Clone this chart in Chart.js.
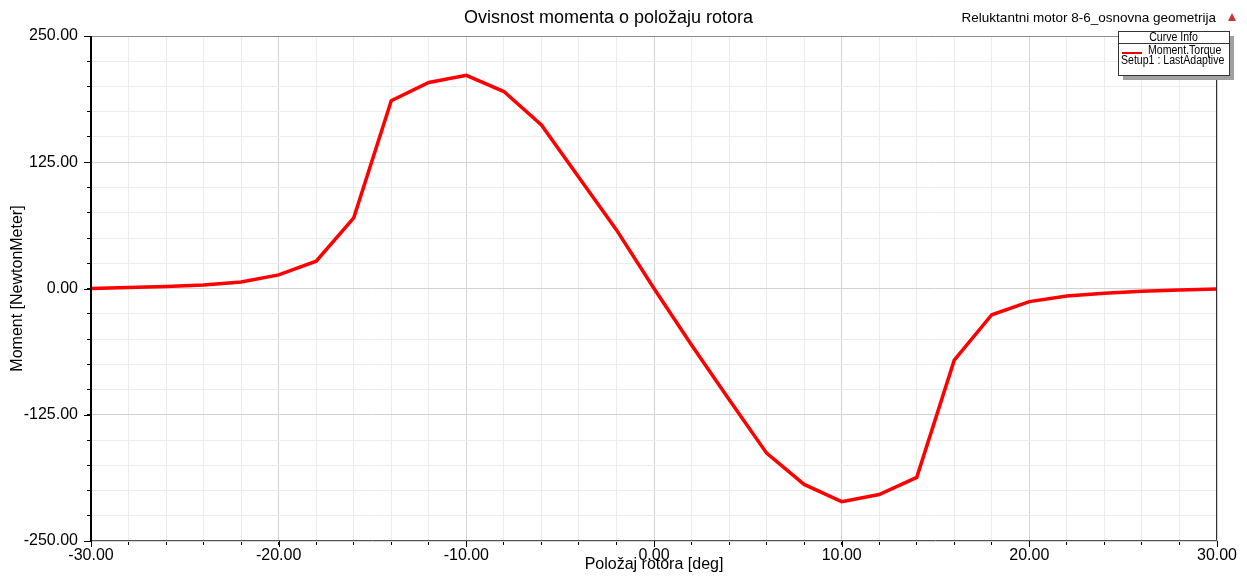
<!DOCTYPE html>
<html>
<head>
<meta charset="utf-8">
<title>Ovisnost momenta o položaju rotora</title>
<script src="https://cdn.jsdelivr.net/npm/chart.js@4.4.1/dist/chart.umd.min.js"></script>
<style>
  html, body { margin: 0; padding: 0; background: #fff; }
  #wrap { width: 1247px; height: 578px; }
</style>
</head>
<body>
<div id="wrap"><canvas id="torqueChart" width="1247" height="578"></canvas></div>
<script>
// rotor position [deg]
const positions = [-30, -28, -26, -24, -22, -20, -18, -16, -14, -12, -10, -8, -6, -4, -2,
  0, 2, 4, 6, 8, 10, 12, 14, 16, 18, 20, 22, 24, 26, 28, 30];
// Moment.Torque [NewtonMeter]
const torque = [0, 1, 2, 3.5, 6.5, 13.5, 27, 70, 186, 204, 211, 195, 162, 110, 58,
  0, -56, -110, -163, -194, -211, -204, -187, -71, -26, -13, -7.5, -4.8, -2.8, -1.5, -0.5];

const xLabels = [-30, -20, -10, 0, 10, 20, 30];
const yLabels = [-250, -125, 0, 125, 250];

const FONT = "'Liberation Sans', Arial, sans-serif";

// frame, longer major ticks, subtitle and the "Curve Info" box
const overlayPlugin = {
  id: 'overlay',
  afterDraw(chart) {
    const ctx = chart.ctx;
    const a = chart.chartArea;
    const xs = chart.scales.x, ys = chart.scales.y;
    ctx.save();

    // plot frame
    ctx.lineWidth = 1;
    ctx.strokeStyle = '#8c8c8c';
    ctx.beginPath();
    ctx.moveTo(a.left, a.top + 0.5);
    ctx.lineTo(a.right, a.top + 0.5);
    ctx.stroke();
    ctx.strokeStyle = '#333';
    ctx.beginPath();
    ctx.moveTo(a.right - 0.5, a.top);
    ctx.lineTo(a.right - 0.5, a.bottom);
    ctx.stroke();
    ctx.strokeStyle = '#555';
    ctx.beginPath();
    ctx.moveTo(a.left, a.bottom - 0.5);
    ctx.lineTo(a.right, a.bottom - 0.5);
    ctx.stroke();

    // major ticks are a bit longer than the minor ones
    ctx.strokeStyle = '#000';
    ctx.lineWidth = 1;
    ctx.beginPath();
    yLabels.forEach(v => {
      const py = Math.round(ys.getPixelForValue(v)) + 0.5;
      ctx.moveTo(a.left - 7, py);
      ctx.lineTo(a.left, py);
    });
    xLabels.forEach(v => {
      const px = Math.round(xs.getPixelForValue(v)) + 0.5;
      ctx.moveTo(px, a.bottom);
      ctx.lineTo(px, a.bottom + 6);
    });
    ctx.stroke();

    ctx.lineWidth = 2;
    ctx.beginPath();
    ctx.moveTo(a.left, a.top);
    ctx.lineTo(a.left, a.bottom);
    ctx.stroke();

    // subtitle top right
    ctx.fillStyle = '#000';
    ctx.font = '13.5px ' + FONT;
    ctx.textAlign = 'right';
    ctx.textBaseline = 'middle';
    ctx.fillText('Reluktantni motor 8-6_osnovna geometrija', 1216, 18);

    // small red marker
    ctx.fillStyle = '#c33';
    ctx.beginPath();
    ctx.moveTo(1232, 13);
    ctx.lineTo(1236, 21);
    ctx.lineTo(1228, 21);
    ctx.closePath();
    ctx.fill();

    // legend box
    const bx = 1118, by = 31, bw = 111, bh = 44;
    ctx.fillStyle = '#a0a0a0';
    ctx.fillRect(bx + 5, by + 5, bw, bh);
    ctx.fillStyle = '#fff';
    ctx.fillRect(bx, by, bw, bh);
    ctx.strokeStyle = '#333';
    ctx.lineWidth = 1;
    ctx.strokeRect(bx + 0.5, by + 0.5, bw, bh);
    ctx.beginPath();
    ctx.moveTo(bx, by + 12.5);
    ctx.lineTo(bx + bw, by + 12.5);
    ctx.stroke();

    ctx.fillStyle = '#000';
    ctx.textAlign = 'center';
    ctx.font = '12px ' + FONT;
    ctx.save();
    ctx.translate(bx + bw / 2, by + 6.5);
    ctx.scale(0.88, 1);
    ctx.fillText('Curve Info', 0, 0);
    ctx.restore();

    ctx.strokeStyle = '#e00';
    ctx.lineWidth = 2;
    ctx.beginPath();
    ctx.moveTo(bx + 4, by + 22);
    ctx.lineTo(bx + 24, by + 22);
    ctx.stroke();

    ctx.textAlign = 'left';
    ctx.save();
    ctx.translate(bx + 30, by + 20);
    ctx.scale(0.88, 1);
    ctx.fillText('Moment.Torque', 0, 0);
    ctx.restore();
    ctx.save();
    ctx.translate(bx + 3, by + 29.5);
    ctx.scale(0.88, 1);
    ctx.fillText('Setup1 : LastAdaptive', 0, 0);
    ctx.restore();

    ctx.restore();
  }
};

const chartData = {
  datasets: [{
    label: 'Moment.Torque',
    data: positions.map((p, i) => ({ x: p, y: torque[i] })),
    borderColor: '#ff0000',
    backgroundColor: '#ff0000',
    borderWidth: 3.5,
    pointRadius: 0,
    tension: 0,
    showLine: true
  }]
};

const chartConfig = {
  type: 'scatter',
  data: chartData,
  options: {
    responsive: false,
    animation: false,
    layout: { padding: { left: 0, right: 30, top: 0, bottom: 0 } },
    plugins: {
      legend: { display: false },
      tooltip: { enabled: false },
      title: {
        display: true,
        text: 'Ovisnost momenta o položaju rotora',
        color: '#000',
        font: { family: FONT, size: 18, weight: 'normal' },
        padding: { top: 7, bottom: 7.4 }
      }
    },
    scales: {
      x: {
        type: 'linear',
        min: -30,
        max: 30,
        afterFit(scale) { scale.height = 37; },
        ticks: {
          stepSize: 2,
          autoSkip: false,
          maxRotation: 0,
          padding: 1,
          color: '#000',
          font: { family: FONT, size: 16 },
          callback: v => xLabels.includes(v) ? v.toFixed(2) : ''
        },
        grid: {
          color: c => (c.tick && xLabels.includes(c.tick.value)) ? '#d2d2d2' : '#ececec',
          tickColor: '#000',
          tickLength: 4
        },
        border: { display: false },
        title: {
          display: true,
          text: 'Položaj rotora [deg]',
          color: '#000',
          font: { family: FONT, size: 16 },
          padding: { top: 0, bottom: 4 }
        }
      },
      y: {
        min: -250,
        max: 250,
        afterFit(scale) { scale.width = 91; },
        ticks: {
          stepSize: 25,
          autoSkip: false,
          padding: 9,
          color: '#000',
          font: { family: FONT, size: 16 },
          callback: v => yLabels.includes(v) ? v.toFixed(2) : ''
        },
        grid: {
          color: c => (c.tick && yLabels.includes(c.tick.value)) ? '#d2d2d2' : '#ececec',
          tickColor: '#000',
          tickLength: 4
        },
        border: { display: false },
        title: {
          display: true,
          text: 'Moment [NewtonMeter]',
          color: '#000',
          font: { family: FONT, size: 16 },
          padding: { top: 8, bottom: 0 }
        }
      }
    }
  },
  plugins: [overlayPlugin]
};

window.onload = function () {
  const torqueChart = new Chart(document.getElementById('torqueChart'), chartConfig);
};
</script>
</body>
</html>
